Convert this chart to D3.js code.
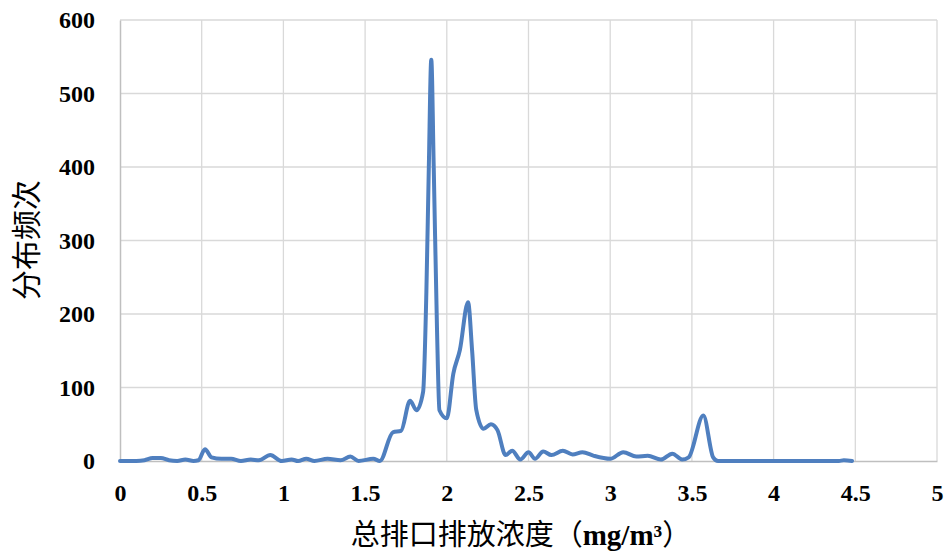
<!DOCTYPE html>
<html>
<head>
<meta charset="utf-8">
<script src="https://cdn.jsdelivr.net/npm/d3@7/dist/d3.min.js"></script>
<style>
  html, body { margin: 0; padding: 0; background: #fff; }
  svg { display: block; }
</style>
</head>
<body>
<svg id="chart" width="947" height="554"></svg>
<script>
// Concentration (mg/m³) sample points and the frequency at each
const concentration = [
  0.00, 0.05, 0.10, 0.15, 0.20, 0.25, 0.30, 0.35, 0.40, 0.45, 0.48, 0.52, 0.56, 0.62, 0.68,
  0.74, 0.80, 0.85, 0.92, 0.99, 1.05, 1.09, 1.14, 1.19, 1.27, 1.35, 1.41, 1.46, 1.55, 1.59,
  1.67, 1.72, 1.775, 1.815, 1.855, 1.875, 1.89, 1.905, 1.92, 1.94, 1.955, 2.00, 2.04, 2.08,
  2.13, 2.155, 2.18, 2.225, 2.27, 2.31, 2.36, 2.40, 2.45, 2.50, 2.54, 2.59, 2.64, 2.71, 2.77,
  2.83, 2.90, 3.00, 3.08, 3.16, 3.23, 3.31, 3.38, 3.44, 3.48, 3.57, 3.63, 3.66, 3.80, 4.00,
  4.20, 4.40, 4.43, 4.48
];
const frequency = [
  0, 0, 0, 1, 4, 4, 1, 0, 2, 0, 1, 16, 5, 3, 3,
  0, 2, 1, 8, 0, 2, 0, 3, 0, 3, 1, 6, 0, 3, 0,
  39, 41, 82, 69, 94, 230, 400, 546, 400, 180, 69, 58, 119, 151,
  216, 150, 70, 44, 50, 42, 8, 14, 2, 12, 3, 13, 8, 14, 9,
  12, 7, 3, 12, 6, 7, 2, 10, 2, 5, 62, 5, 0, 0, 0,
  0, 0, 1, 0
];
const xTicks = [0, 0.5, 1, 1.5, 2, 2.5, 3, 3.5, 4, 4.5, 5];
const yTicks = [0, 100, 200, 300, 400, 500, 600];

const svg = d3.select("#chart");
const margin = { left: 120, right: 10, top: 20, bottom: 93 };
const plotW = 937 - margin.left;
const plotH = 461 - margin.top;

const x = d3.scaleLinear().domain([0, 5]).range([margin.left, margin.left + plotW]);
const y = d3.scaleLinear().domain([0, 600]).range([margin.top + plotH, margin.top]);

const tickFont = "'Liberation Serif', 'Times New Roman', serif";
const cjkFont = "'Noto Sans CJK SC', 'Noto Sans', sans-serif";

// Gridlines
const grid = svg.append("g");
grid.selectAll("line.v").data(xTicks.slice(1)).join("line")
  .attr("x1", d => x(d)).attr("x2", d => x(d))
  .attr("y1", y(0)).attr("y2", y(600))
  .attr("stroke", "#d9d9d9").attr("stroke-width", 1.3);
grid.selectAll("line.h").data(yTicks.slice(1)).join("line")
  .attr("x1", x(0)).attr("x2", x(5))
  .attr("y1", d => y(d)).attr("y2", d => y(d))
  .attr("stroke", "#d9d9d9").attr("stroke-width", 1.3);

// Axes
const xAxis = svg.append("g")
  .attr("transform", `translate(0,${y(0)})`)
  .call(d3.axisBottom(x).tickValues(xTicks).tickSize(0).tickPadding(23)
    .tickFormat(d => d3.format("")(d)));
const yAxis = svg.append("g")
  .attr("transform", `translate(${x(0)},0)`)
  .call(d3.axisLeft(y).tickValues(yTicks).tickSize(0).tickPadding(25));

[xAxis, yAxis].forEach(g => {
  g.select(".domain").attr("stroke", "#bfbfbf").attr("stroke-width", 1.5);
  g.selectAll("text")
    .attr("font-family", tickFont)
    .attr("font-weight", "bold")
    .attr("font-size", 24)
    .attr("fill", "#000");
});

// Frequency curve
const points = concentration.map((c, i) => [c, frequency[i]]);
const line = d3.line()
  .x(d => x(d[0]))
  .y(d => y(d[1]))
  .curve(d3.curveMonotoneX);
svg.append("path")
  .datum(points)
  .attr("d", line)
  .attr("fill", "none")
  .attr("stroke", "#4f7fbf")
  .attr("stroke-width", 4)
  .attr("stroke-linejoin", "round")
  .attr("stroke-linecap", "round");

// Axis titles
svg.append("text")
  .attr("transform", `translate(37,240) rotate(-90)`)
  .attr("text-anchor", "middle")
  .attr("font-family", cjkFont)
  .attr("font-size", 30)
  .attr("fill", "#000")
  .text("分布频次");

const xt = svg.append("text")
  .attr("x", 521).attr("y", 545)
  .attr("text-anchor", "middle")
  .attr("font-family", cjkFont)
  .attr("font-size", 29)
  .attr("fill", "#000");
xt.append("tspan").text("总排口排放浓度（");
xt.append("tspan").attr("font-family", tickFont).attr("font-weight", "bold").text("mg/m³");
xt.append("tspan").text("）");
</script>
</body>
</html>
